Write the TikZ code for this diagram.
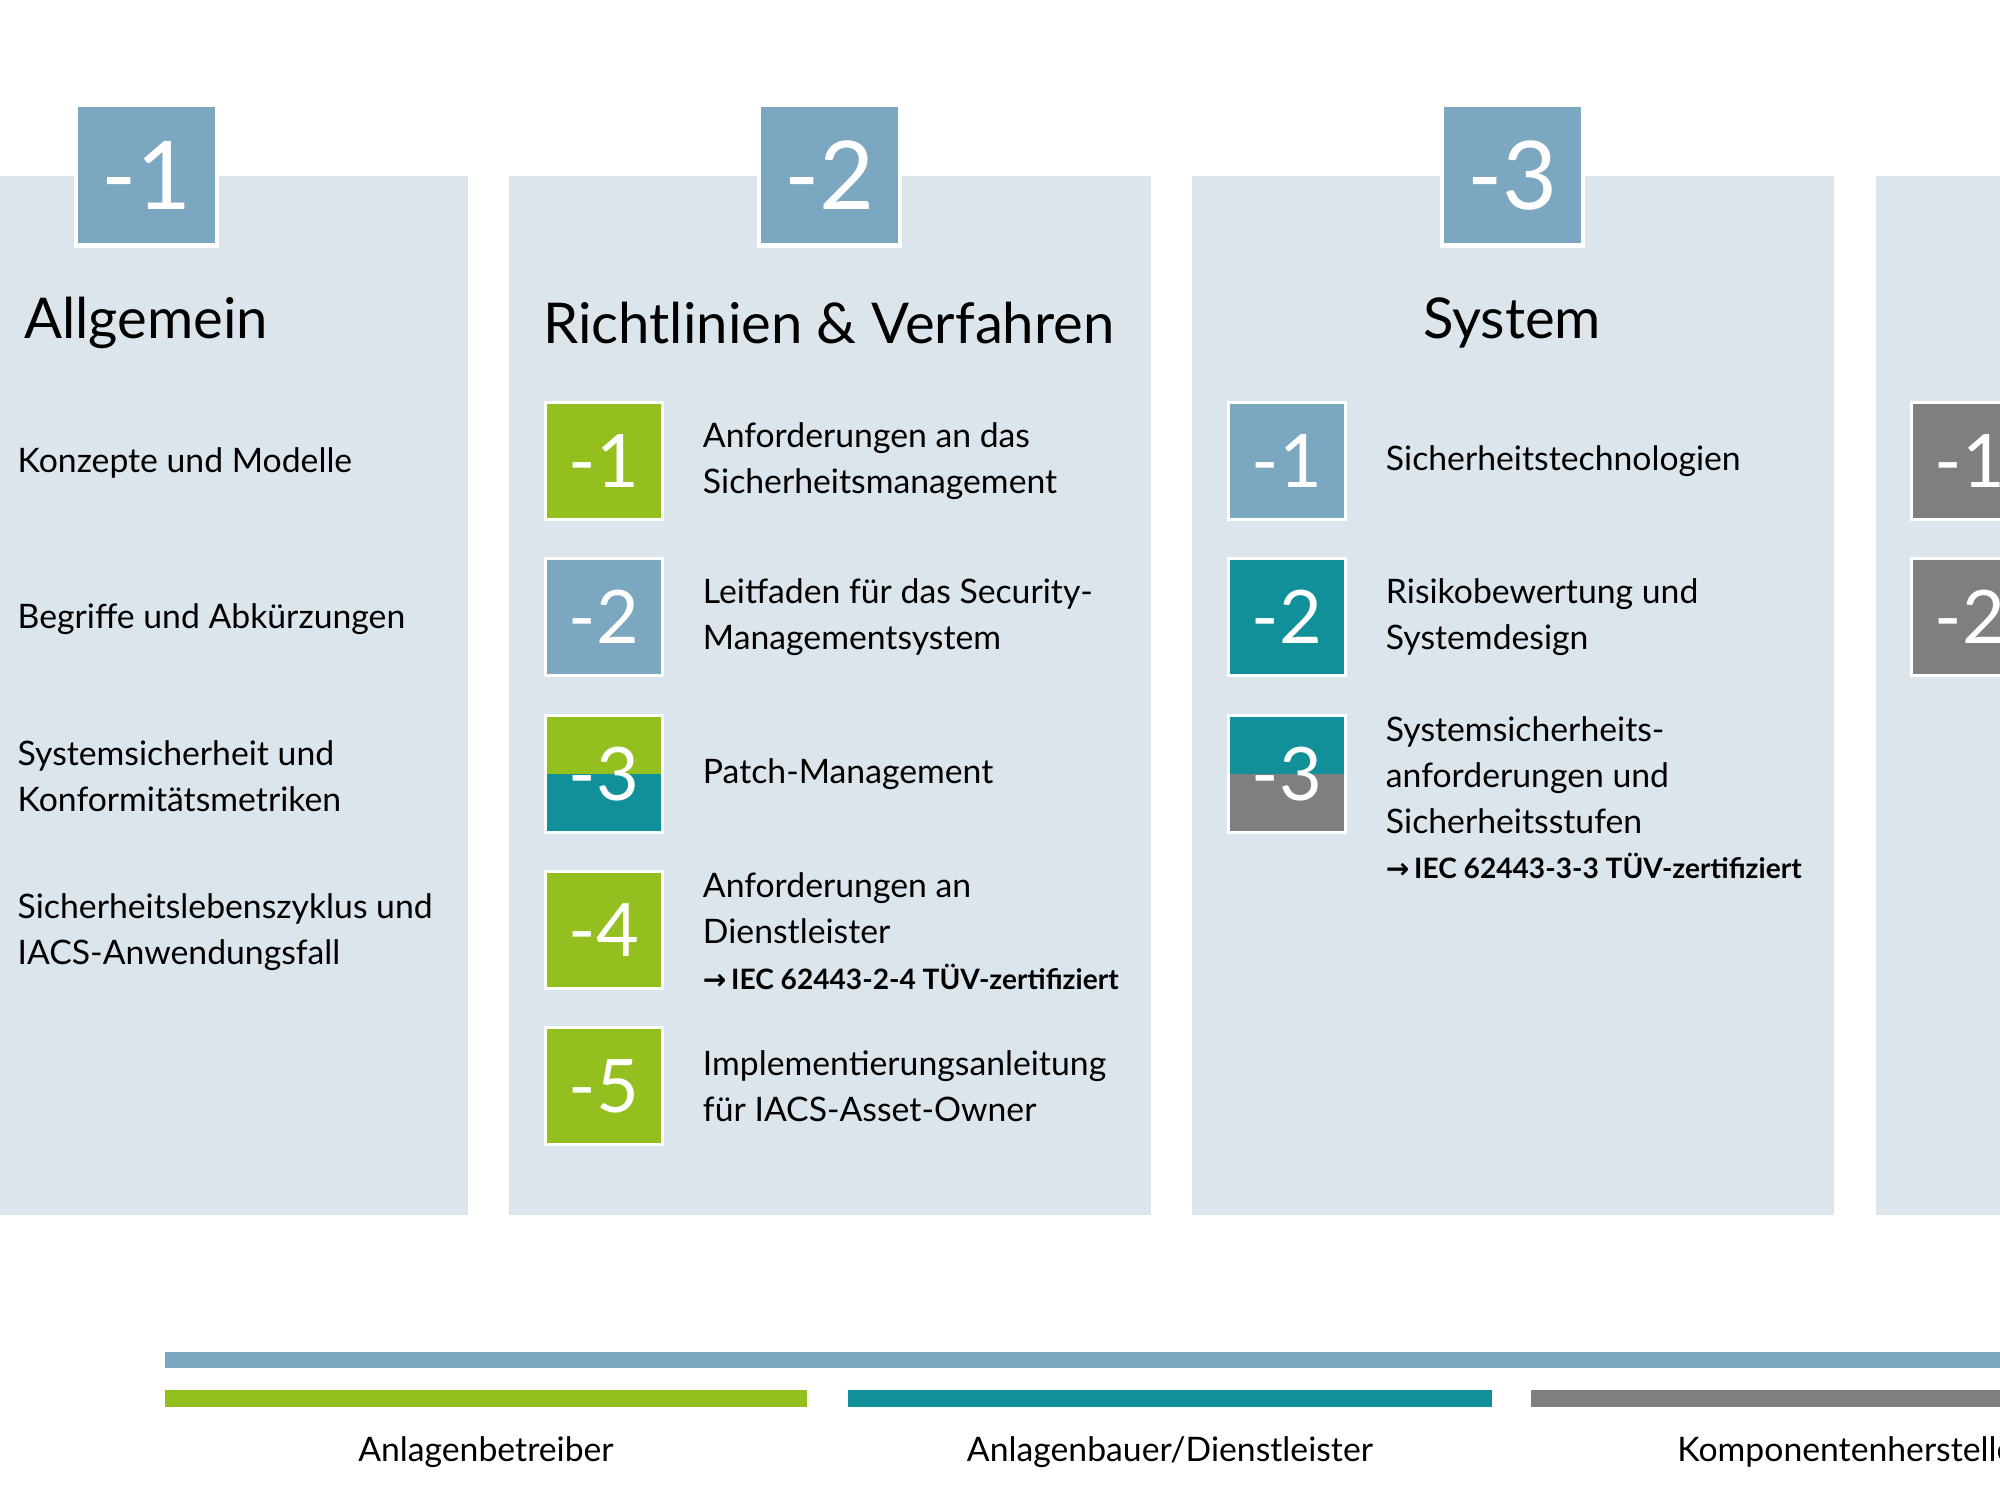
\documentclass[tikz,border=0pt]{standalone}
\usepackage{fontspec}
\setmainfont{Lato}
\newfontfamily\arrowfont{DejaVu Sans}
\usetikzlibrary{positioning}

\definecolor{panelbg}{HTML}{DCE5EC}
\definecolor{steel}{HTML}{7BA7C0}
\definecolor{lime}{HTML}{93C01F}
\definecolor{petrol}{HTML}{11909A}
\definecolor{slate}{HTML}{7F7F7F}

\newcommand{\cert}[1]{{\bfseries\fontsize{8}{10}\selectfont{\arrowfont →}\,#1}}

\begin{document}
\begin{tikzpicture}[
  panel/.style={fill=panelbg, anchor=north west, minimum width=6.42cm, minimum height=10.39cm, inner sep=0},
  head/.style={fill=steel, draw=white, line width=1.2pt, minimum size=1.41cm, inner sep=0, text=white, font=\fontsize{27}{27}\selectfont},
  part/.style={fill=#1, draw=white, line width=1pt, minimum size=1.17cm, inner sep=0, text=white, font=\fontsize{21}{21}\selectfont},
  halfpart/.style 2 args={part=#1, path picture={\fill[#2] (path picture bounding box.west) rectangle (path picture bounding box.south east);}},
  title/.style={font=\fontsize{16}{19}\selectfont},
  item/.style={anchor=west, align=left, inner sep=0, font=\fontsize{9.6}{13}\selectfont},
  role/.style={font=\fontsize{9.6}{12}\selectfont}
]
 \useasboundingbox (0,0) rectangle (20,-15);
 \clip (0,0) rectangle (20,-15);

 % panels
 \node[panel] (pA) at (-1.75,-1.75) {};
 \node[panel] (pB) at (5.08,-1.75) {};
 \node[panel] (pC) at (11.91,-1.75) {};
 \node[panel] (pD) at (18.75,-1.75) {};

 % headers and titles
 \node[head] (hA) at (pA.north) {-1};
 \node[head] (hB) at (pB.north) {-2};
 \node[head] (hC) at (pC.north) {-3};
 \node[title] (tA) at (1.46,-3.23) {Allgemein};
 \node[title] (tB) at (8.29,-3.23) {Richtlinien \& Verfahren};
 \node[title] (tC) at (15.12,-3.23) {System};

 % part 1
 \node[item] (a1) at (0.17,-4.63) {Konzepte und Modelle};
 \node[item] (a2) at (0.17,-6.19) {Begriffe und Abkürzungen};
 \node[item] (a3) at (0.17,-7.76) {Systemsicherheit und\\Konformitätsmetriken};
 \node[item] (a4) at (0.17,-9.32) {Sicherheitslebenszyklus und\\IACS-Anwendungsfall};

 % part 2
 \node[part=lime] (b1) at (6.04,-4.61) {-1};
 \node[part=steel] (b2) at (6.04,-6.17) {-2};
 \node[halfpart={lime}{petrol}] (b3) at (6.04,-7.74) {-3};
 \node[part=lime] (b4) at (6.04,-9.30) {-4};
 \node[part=lime] (b5) at (6.04,-10.86) {-5};
 \node[item, right=0.38cm of b1] (tb1) {Anforderungen an das\\Sicherheitsmanagement};
 \node[item, right=0.38cm of b2] (tb2) {Leitfaden für das Security-\\Managementsystem};
 \node[item, right=0.38cm of b3] (tb3) {Patch-Management};
 \node[item, right=0.38cm of b4, yshift=-0.01cm] (tb4) {Anforderungen an\\Dienstleister\\\cert{IEC 62443-2-4 TÜV-zertifiziert}};
 \node[item, right=0.38cm of b5] (tb5) {Implementierungsanleitung\\für IACS-Asset-Owner};

 % part 3
 \node[part=steel] (c1) at (12.87,-4.61) {-1};
 \node[part=petrol] (c2) at (12.87,-6.17) {-2};
 \node[halfpart={petrol}{slate}] (c3) at (12.87,-7.74) {-3};
 \node[item, right=0.38cm of c1] (tc1) {Sicherheitstechnologien};
 \node[item, right=0.38cm of c2] (tc2) {Risikobewertung und\\Systemdesign};
 \node[item, right=0.38cm of c3, yshift=-0.24cm] (tc3) {Systemsicherheits-\\anforderungen und\\Sicherheitsstufen\\\cert{IEC 62443-3-3 TÜV-zertifiziert}};

 % part 4
 \node[part=slate] (d1) at (19.70,-4.61) {-1};
 \node[part=slate] (d2) at (19.70,-6.17) {-2};

 % roles
 \fill[steel] (1.65,-13.52) rectangle (20.5,-13.68);
 \fill[lime] (1.65,-13.90) rectangle (8.07,-14.07);
 \fill[petrol] (8.48,-13.90) rectangle (14.92,-14.07);
 \fill[slate] (15.31,-13.90) rectangle (21.5,-14.07);
 \node[role] (r1) at (4.86,-14.52) {Anlagenbetreiber};
 \node[role] (r2) at (11.70,-14.52) {Anlagenbauer/Dienstleister};
 \node[role] (r3) at (18.52,-14.52) {Komponentenhersteller};
\end{tikzpicture}
\end{document}
